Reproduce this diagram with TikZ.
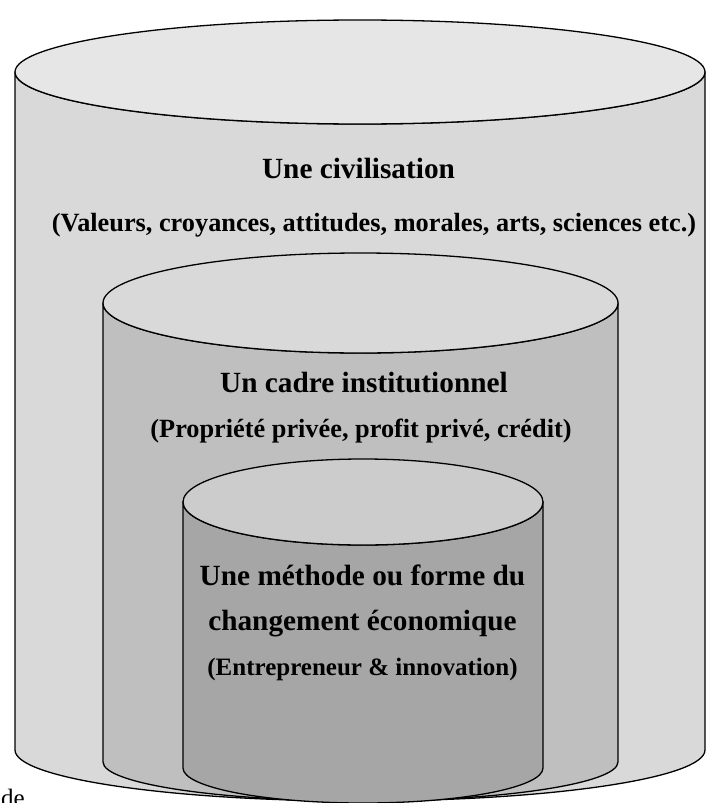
\documentclass[tikz,border=0pt]{standalone}
\usepackage{fontspec}
\setmainfont{Liberation Serif}
\definecolor{outtop}{HTML}{E6E6E6}
\definecolor{outbody}{HTML}{D9D9D9}
\definecolor{midtop}{HTML}{D9D9D9}
\definecolor{midbody}{HTML}{BFBFBF}
\definecolor{intop}{HTML}{CCCCCC}
\definecolor{inbody}{HTML}{A6A6A6}
\tikzset{
  cyl/.style={draw=black, line width=1.3pt, line join=round},
  title/.style={anchor=base, inner sep=0pt, font=\fontsize{29.3}{34}\selectfont\bfseries},
  subtitle/.style={anchor=base, inner sep=0pt, font=\fontsize{26.3}{30}\selectfont\bfseries},
  smallsub/.style={anchor=base, inner sep=0pt, font=\fontsize{25}{30}\selectfont\bfseries},
}
% \mycyl{left}{right}{topY}{topRy}{bottomY}{bottomRy}{bodycolor}{topcolor}
\newcommand{\mycyl}[8]{%
  \pgfmathsetmacro{\rx}{(#2-#1)/2}%
  \pgfmathsetmacro{\cx}{(#2+#1)/2}%
  \filldraw[cyl, fill=#7] (#1,-#3) -- (#1,-#5)
     arc[start angle=180, end angle=360, x radius=\rx, y radius=#6]
     -- (#2,-#3)
     arc[start angle=0, end angle=-180, x radius=\rx, y radius=#4] -- cycle;
  \filldraw[cyl, fill=#8] (\cx,-#3) ellipse[x radius=\rx, y radius=#4];
}
\begin{document}
\begin{tikzpicture}[x=1pt,y=1pt]
\useasboundingbox (0,0) rectangle (706,-803);
\clip (0,0) rectangle (706,-803);
\mycyl{15}{705}{72}{52}{750}{51}{outbody}{outtop}
\mycyl{103}{618}{303}{50}{762}{39}{midbody}{midtop}
\mycyl{183}{543}{502}{43}{768}{35}{inbody}{intop}
\node[title] (civ) at (358.5,-178) {Une civilisation};
\node[subtitle] (civsub) at (374,-231) {(Valeurs, croyances, attitudes, morales, arts, sciences etc.)};
\node[title] (cadre) at (364,-392) {Un cadre institutionnel};
\node[subtitle] (cadresub) at (361,-437) {(Propriété privée, profit privé, crédit)};
\node[title] (meth1) at (362.5,-585) {Une méthode ou forme du};
\node[title] (meth2) at (362.5,-630) {changement économique};
\node[smallsub] (methsub) at (362.5,-675) {(Entrepreneur \& innovation)};
\node[anchor=base west, inner sep=0pt, font=\fontsize{25}{28}\selectfont] (de) at (1,-806) {de};
\end{tikzpicture}
\end{document}
